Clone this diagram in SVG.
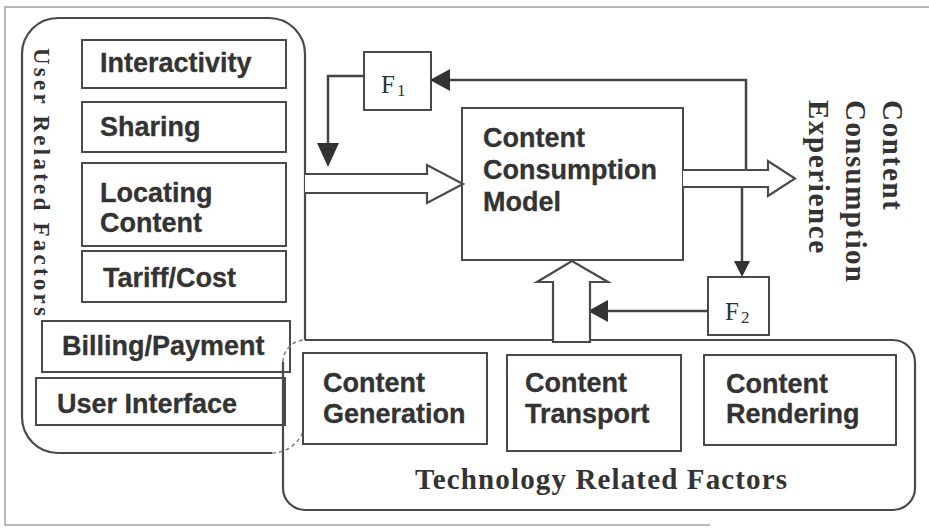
<svg xmlns="http://www.w3.org/2000/svg" width="929" height="532" viewBox="0 0 929 532">
  <style>
    .frame{fill:none;stroke:#a3a3a3;stroke-width:1.5}
    .group{fill:none;stroke:#4a4a4a;stroke-width:2.2}
    .ghost{fill:none;stroke:#8a8a8a;stroke-width:1.6;stroke-dasharray:4 3}
    .box{fill:#fff;stroke:#4a4a4a;stroke-width:2}
    .lbl{font-family:"Liberation Sans",Arial,sans-serif;font-weight:bold;font-size:27px;fill:#333;stroke:#333;stroke-width:0.3}
    .ser{font-family:"Liberation Serif","Times New Roman",serif;font-weight:bold;fill:#333}
    .sub{font-family:"Liberation Serif","Times New Roman",serif;fill:#333}
    .wire{fill:none;stroke:#444;stroke-width:2.5}
    .head{fill:#333}
    .hollow{fill:#fff;stroke:#4a4a4a;stroke-width:2.2;stroke-linejoin:miter}
  </style>

  <rect width="929" height="532" fill="#fff"/>
  <!-- page frame -->
  <path class="frame" d="M929,7 H5 V525 H710"/>

  <!-- user related factors group -->
  <g id="user-factors">
    <path class="group" d="M305,340 V54 A36,36 0 0 0 269,18 H58 A36,36 0 0 0 22,54 V417 A36,36 0 0 0 58,453 H272"/>
    <path class="ghost" d="M272,453 A33,33 0 0 0 305,420"/>
    <text class="ser" font-size="23" textLength="268" lengthAdjust="spacing" transform="translate(34,48) rotate(90)">User Related Factors</text>
  </g>

  <g id="interactivity"><rect class="box" x="82" y="40" width="204" height="48"/><text class="lbl" x="100" y="72">Interactivity</text></g>
  <g id="sharing"><rect class="box" x="82" y="102" width="204" height="50"/><text class="lbl" x="100" y="136">Sharing</text></g>
  <g id="locating-content"><rect class="box" x="82" y="163" width="204" height="83"/><text class="lbl" x="100" y="202">Locating</text><text class="lbl" x="100" y="232">Content</text></g>
  <g id="tariff-cost"><rect class="box" x="82" y="251" width="204" height="51"/><text class="lbl" x="103" y="287">Tariff/Cost</text></g>
  <g id="billing-payment"><rect class="box" x="42" y="321" width="248" height="51"/><text class="lbl" x="62" y="355">Billing/Payment</text></g>
  <g id="user-interface"><rect class="box" x="36" y="378" width="249" height="47"/><text class="lbl" x="57" y="413">User Interface</text></g>

  <!-- technology related factors group -->
  <g id="technology-factors">
    <path class="group" d="M305,340 H893 A22,22 0 0 1 915,362 V488 A22,22 0 0 1 893,510 H305 A22,22 0 0 1 283,488 V362"/>
    <path class="ghost" d="M283,362 A22,22 0 0 1 305,340"/>
    <text class="ser" x="415" y="489" font-size="29" textLength="372" lengthAdjust="spacing">Technology Related Factors</text>
  </g>

  <g id="content-generation"><rect class="box" x="303" y="353" width="184" height="91"/><text class="lbl" x="323" y="392">Content</text><text class="lbl" x="323" y="423">Generation</text></g>
  <g id="content-transport"><rect class="box" x="507" y="355" width="174" height="96"/><text class="lbl" x="525" y="392">Content</text><text class="lbl" x="525" y="423">Transport</text></g>
  <g id="content-rendering"><rect class="box" x="704" y="355" width="192" height="90"/><text class="lbl" x="726" y="393">Content</text><text class="lbl" x="726" y="423">Rendering</text></g>

  <g id="consumption-model"><rect class="box" x="462" y="108" width="221" height="152"/><text class="lbl" x="483" y="147">Content</text><text class="lbl" x="483" y="179">Consumption</text><text class="lbl" x="483" y="211">Model</text></g>

  <g id="f1"><rect class="box" x="364" y="52" width="67" height="58"/><text class="sub" font-size="25" x="381" y="93">F</text><text class="sub" font-size="17" x="397" y="96">1</text></g>
  <g id="f2"><rect class="box" x="708" y="277" width="61" height="58"/><text class="sub" font-size="25" x="725" y="320">F</text><text class="sub" font-size="17" x="741" y="323">2</text></g>

  <g id="experience">
    <text class="ser" font-size="29" textLength="110" lengthAdjust="spacing" transform="translate(883,100) rotate(90)">Content</text>
    <text class="ser" font-size="29" textLength="182" lengthAdjust="spacing" transform="translate(846,100) rotate(90)">Consumption</text>
    <text class="ser" font-size="29" textLength="153" lengthAdjust="spacing" transform="translate(809,100) rotate(90)">Experience</text>
  </g>

  <!-- connectors -->
  <g id="connectors">
    <path class="wire" d="M364,76 H328 V145"/>
    <polygon class="head" points="317,143 339,143 328,167"/>
    <path class="wire" d="M746,172 V80 H448"/>
    <polygon class="head" points="450,69 450,91 430,80"/>
    <path class="wire" d="M742,185 V263"/>
    <polygon class="head" points="734,261 750,261 742,277"/>
    <path class="wire" d="M708,311 H606"/>
    <polygon class="head" points="608,300 608,322 588,311"/>
    <path class="hollow" d="M305,174 H427 V165 L463,184 L427,203 V193 H305"/>
    <path class="hollow" d="M683,170 H768 V161 L795,178.5 L768,196 V187 H683"/>
    <path class="hollow" d="M553,342 V282 H537 L572,261 L608,282 H590 V342 Z"/>
  </g>
</svg>
